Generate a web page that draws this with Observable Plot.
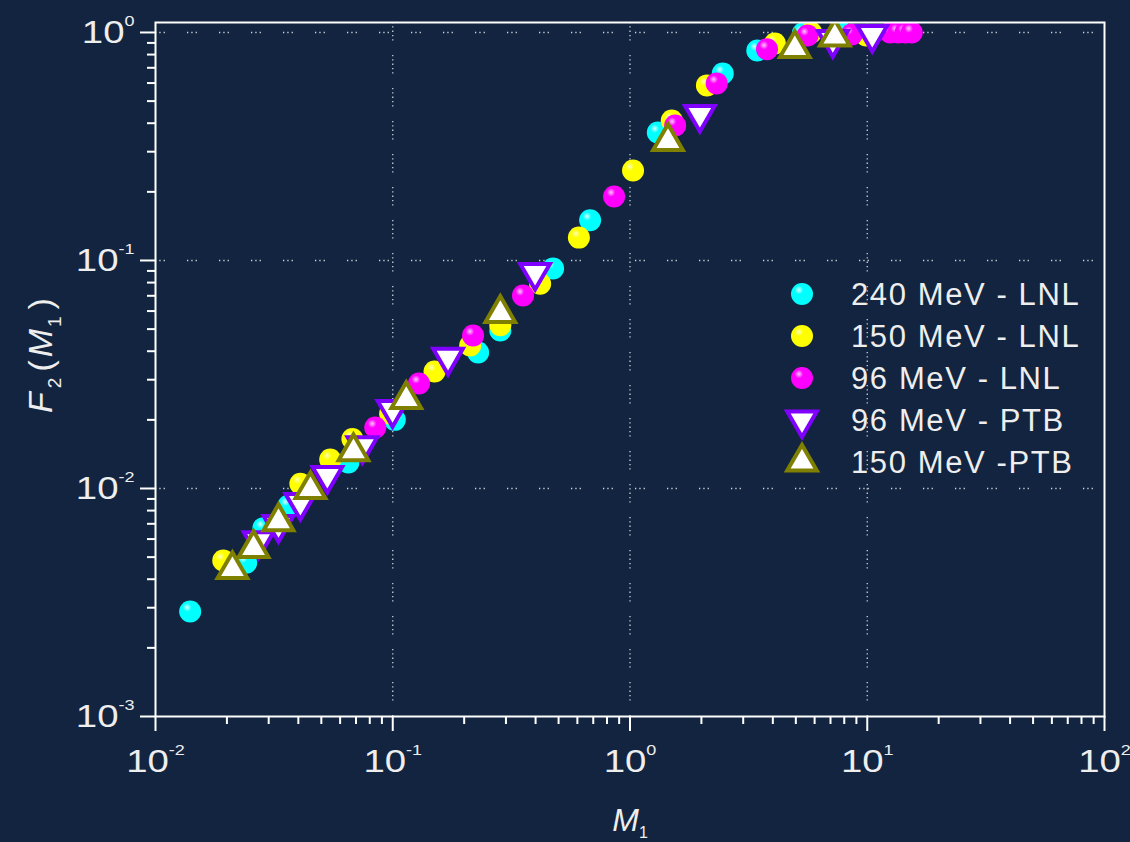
<!DOCTYPE html>
<html>
<head>
<meta charset="utf-8">
<script src="https://cdn.jsdelivr.net/npm/d3@7"></script>
<script src="https://cdn.jsdelivr.net/npm/@observablehq/plot@0.6"></script>
<style>
  html, body { margin: 0; padding: 0; background: #12243f; }
  #chart { width: 1130px; height: 842px; }
</style>
</head>
<body>
<div id="chart"></div>
<script>
// Series names (legend order)
const seriesNames = ["240 MeV - LNL", "150 MeV - LNL", "96 MeV - LNL", "96 MeV - PTB", "150 MeV -PTB"];

// 240 MeV - LNL
const m1_240LNL = [0.0140, 0.0241, 0.0285, 0.0363, 0.065, 0.102, 0.229, 0.284, 0.474, 0.679, 1.31, 2.46, 3.44, 5.35, 7.8];
const f2_240LNL = [0.00289, 0.00473, 0.0067, 0.0084, 0.0130, 0.020, 0.0395, 0.0493, 0.0922, 0.150, 0.364, 0.661, 0.834, 0.99, 1.0];

// 150 MeV - LNL
const m1_150LNL = [0.0193, 0.0408, 0.0545, 0.0676, 0.0975, 0.150, 0.212, 0.284, 0.418, 0.609, 1.03, 1.50, 2.11, 4.08, 5.8, 9.9];
const f2_150LNL = [0.00483, 0.0105, 0.0134, 0.0165, 0.0213, 0.0326, 0.0424, 0.052, 0.079, 0.126, 0.248, 0.411, 0.586, 0.895, 1.0, 0.97];

// 96 MeV - LNL
const m1_96LNL = [0.0844, 0.129, 0.218, 0.354, 0.857, 1.55, 2.32, 3.78, 5.6, 8.6, 12.5, 13.5, 14.5, 15.4];
const f2_96LNL = [0.0185, 0.0289, 0.0469, 0.0702, 0.191, 0.391, 0.598, 0.845, 0.97, 0.98, 1.0, 1.0, 1.0, 1.0];

// 96 MeV - PTB
const m1_96PTB = [0.0272, 0.0330, 0.0408, 0.053, 0.0745, 0.0998, 0.171, 0.398, 1.97, 7.16, 10.5];
const f2_96PTB = [0.00589, 0.00695, 0.00868, 0.0114, 0.0154, 0.0222, 0.0376, 0.0886, 0.437, 0.93, 0.98];

// 150 MeV - PTB
const m1_150PTB = [0.0211, 0.0259, 0.0330, 0.045, 0.0683, 0.114, 0.284, 1.446, 4.95, 7.3];
const f2_150PTB = [0.00441, 0.00546, 0.00716, 0.0099, 0.0145, 0.0246, 0.0586, 0.333, 0.85, 0.955];

// Axis ticks
const xTicks = [0.01, 0.1, 1, 10, 100];
const xTickExp = ["-2", "-1", "0", "1", "2"];
const yTicks = [0.001, 0.01, 0.1, 1];
const yTickExp = ["-3", "-2", "-1", "0"];
const xGrid = [0.1, 1, 10];
const yGrid = [0.01, 0.1, 1];

// minor ticks 2..9 within each decade
const minorOf = decades => decades.slice(0, -1).flatMap(d => d3.range(2, 10).map(k => d * k));
const xMinor = minorOf(xTicks);
const yMinor = minorOf(yTicks);

const toRows = (xs, ys) => xs.map((x, i) => ({m1: x, f2: ys[i]}));
const rows240LNL = toRows(m1_240LNL, f2_240LNL);
const rows150LNL = toRows(m1_150LNL, f2_150LNL);
const rows96LNL = toRows(m1_96LNL, f2_96LNL);
const rows96PTB = toRows(m1_96PTB, f2_96PTB);
const rows150PTB = toRows(m1_150PTB, f2_150PTB);

const cyan = "#00ffff", yellow = "#ffff00", magenta = "#ff00ff", violet = "#8000ff", olive = "#808000";
const R = 11;
const gridColor = "#cfd3da";
const textColor = "#eeeeee";

const plot = Plot.plot({
  width: 1130,
  height: 842,
  marginLeft: 155,
  marginRight: 26,
  marginTop: 22,
  marginBottom: 126,
  style: {
    background: "#12243f",
    color: "white",
    fontFamily: "'Liberation Sans', Arial, sans-serif",
    fontSize: "32px",
    overflow: "visible"
  },
  x: {type: "log", domain: [0.01, 100]},
  y: {type: "log", domain: [0.001, 1.106]},
  marks: [
    Plot.gridX(xGrid, {stroke: gridColor, strokeOpacity: 1, strokeWidth: 1.3, strokeDasharray: "1.3,3,1.3,3,1.3,3,1.3,3,1.3,14.5"}),
    Plot.gridY(yGrid, {stroke: gridColor, strokeOpacity: 1, strokeWidth: 1.3, strokeDasharray: "1.3,3,1.3,3,1.3,22.1"}),
    Plot.dot(rows240LNL, {x: "m1", y: "f2", r: R, fill: "url(#ball-cyan)", clip: true}),
    Plot.dot(rows150LNL, {x: "m1", y: "f2", r: R, fill: "url(#ball-yellow)", clip: true}),
    Plot.dot(rows96LNL, {x: "m1", y: "f2", r: R, fill: "url(#ball-magenta)", clip: true}),
    Plot.dot(rows96PTB, {x: "m1", y: "f2", r: R, symbol: "triangle", rotate: 180, fill: "white", stroke: violet, strokeWidth: 4, clip: true}),
    Plot.dot(rows150PTB, {x: "m1", y: "f2", r: R, symbol: "triangle", fill: "white", stroke: olive, strokeWidth: 4, clip: true}),
    Plot.frame({stroke: "white", strokeWidth: 2}),
    Plot.axisX(xMinor, {tickSize: 8, tickFormat: () => "", strokeWidth: 2, label: null}),
    Plot.axisX(xTicks, {
      tickSize: 15, tickPadding: 18, strokeWidth: 2, fontSize: 32,
      tickFormat: d => "10^" + xTickExp[xTicks.indexOf(d)],
      label: "M1", labelAnchor: "center", labelOffset: 114, labelArrow: "none"
    }),
    Plot.axisY(yMinor, {tickSize: 8, tickFormat: () => "", strokeWidth: 2, label: null}),
    Plot.axisY(yTicks, {
      tickSize: 15, tickPadding: 6, strokeWidth: 2, fontSize: 32,
      tickFormat: d => "10^" + yTickExp[yTicks.indexOf(d)],
      label: "F2(M1)", labelAnchor: "center", labelOffset: 128, labelArrow: "none"
    })
  ]
});

document.getElementById("chart").appendChild(plot);

const svg = d3.select(plot);

// shaded ball fills for the circle markers
const defs = svg.insert("defs", ":first-child");
[["ball-cyan", "#d8ffff", cyan], ["ball-yellow", "#ffffb8", yellow], ["ball-magenta", "#ffc8ff", magenta]]
  .forEach(([id, hi, base]) => {
    const g = defs.append("radialGradient").attr("id", id)
      .attr("cx", "0.36").attr("cy", "0.32").attr("r", "0.7");
    g.append("stop").attr("offset", "0").attr("stop-color", hi);
    g.append("stop").attr("offset", "0.28").attr("stop-color", base);
    g.append("stop").attr("offset", "1").attr("stop-color", base);
  });

// power-of-ten tick labels with superscript exponents, set in a slightly wide face
svg.selectAll("text").each(function () {
  const m = /^10\^(-?\d)$/.exec(this.textContent);
  if (!m) return;
  const tr = this.getAttribute("transform") || "";
  const x = parseFloat(this.getAttribute("x")) || 0;
  this.setAttribute("transform", `${tr} translate(${x},0) scale(1.2,1)`);
  this.setAttribute("x", 0);
  const t = d3.select(this);
  t.text("").attr("fill", textColor).attr("font-size", 32);
  t.append("tspan").text("10");
  t.append("tspan").attr("font-size", 15).attr("dy", -17).text(m[1]);
});

// axis titles with italic symbols and subscripts
const xLab = svg.select('g[aria-label="x-axis label"] text');
xLab.text("").attr("fill", textColor).attr("font-size", 32);
xLab.append("tspan").attr("font-style", "italic").text("M");
xLab.append("tspan").attr("font-size", 16).attr("dy", 7).text("1");

const yLab = svg.select('g[aria-label="y-axis label"] text');
yLab.attr("transform", "translate(0,-14) " + (yLab.attr("transform") || ""));
yLab.text("").attr("fill", textColor).attr("font-size", 34);
yLab.append("tspan").attr("font-style", "italic").text("F");
yLab.append("tspan").attr("font-size", 19).attr("dy", 9).attr("dx", 4).text("2");
yLab.append("tspan").attr("dy", -9).attr("dx", 6).text("(");
yLab.append("tspan").attr("font-style", "italic").attr("dx", 3).text("M");
yLab.append("tspan").attr("font-size", 19).attr("dy", 9).attr("dx", 2).text("1");
yLab.append("tspan").attr("dy", -9).attr("dx", 7).text(")");

// legend inside the plotting area
const legendItems = [
  {name: seriesNames[0], kind: "ball", fill: "url(#ball-cyan)"},
  {name: seriesNames[1], kind: "ball", fill: "url(#ball-yellow)"},
  {name: seriesNames[2], kind: "ball", fill: "url(#ball-magenta)"},
  {name: seriesNames[3], kind: "down", stroke: violet},
  {name: seriesNames[4], kind: "up", stroke: olive}
];
const tri = d3.symbol(d3.symbolTriangle, Math.PI * R * R)();
const legend = svg.append("g").attr("aria-label", "legend").attr("transform", "translate(802,294)");
legendItems.forEach((d, i) => {
  const g = legend.append("g").attr("transform", `translate(0,${i * 42})`);
  if (d.kind === "ball") {
    g.append("circle").attr("r", R).attr("fill", d.fill);
  } else {
    g.append("path").attr("d", tri)
      .attr("transform", d.kind === "down" ? "rotate(180)" : null)
      .attr("fill", "white").attr("stroke", d.stroke).attr("stroke-width", 4);
  }
  g.append("text").attr("x", 49).attr("dy", "0.35em").attr("text-anchor", "start")
    .attr("fill", textColor).attr("font-size", 31).attr("letter-spacing", "1.6px")
    .text(d.name);
});
</script>
</body>
</html>
